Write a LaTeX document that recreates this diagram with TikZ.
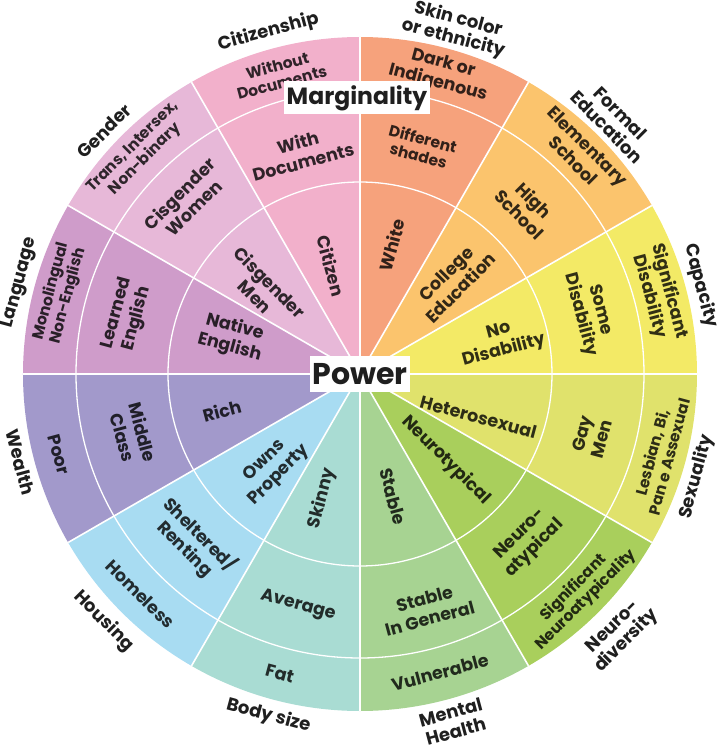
\documentclass[tikz,border=0pt]{standalone}
\usepackage{fontspec}
\setmainfont{Poppins}
\definecolor{cCit}{HTML}{F2B0CB}
\definecolor{cSkin}{HTML}{F6A27C}
\definecolor{cEdu}{HTML}{FBC46D}
\definecolor{cCap}{HTML}{F3EA66}
\definecolor{cSex}{HTML}{E0E26C}
\definecolor{cNeu}{HTML}{A9CF5C}
\definecolor{cMen}{HTML}{A7D392}
\definecolor{cBod}{HTML}{A9DCD3}
\definecolor{cHou}{HTML}{A8DCF2}
\definecolor{cWea}{HTML}{A299CB}
\definecolor{cLan}{HTML}{CF9CCA}
\definecolor{cGen}{HTML}{E7B8D8}
\tikzset{
  segtxt/.style={font=\bfseries\fontsize{17.5}{20.5}\selectfont, text=#1!20!black, align=center, inner sep=0pt},
  smalltxt/.style={font=\bfseries\fontsize{15.5}{17.5}\selectfont, text=#1!20!black, align=center, inner sep=0pt},
  lbl/.style={font=\bfseries\fontsize{18}{19.5}\selectfont, text=black!88, align=center, inner sep=0pt},
  ringline/.style={white, line width=1.3pt},
  spoke/.style={white, line width=1.6pt}
}
\newcommand\wedgefill[3]{\fill[#3] (0,0) -- (#1:337pt) arc[start angle=#1, end angle=#2, radius=337pt] -- cycle;}
\begin{document}
\begin{tikzpicture}[x=1pt,y=1pt]
\useasboundingbox (-360,-376) rectangle (359,374);
% wedges
\wedgefill{60}{90}{cSkin}
\wedgefill{30}{60}{cEdu}
\wedgefill{0}{30}{cCap}
\wedgefill{-30}{0}{cSex}
\wedgefill{-60}{-30}{cNeu}
\wedgefill{-90}{-60}{cMen}
\wedgefill{-120}{-90}{cBod}
\wedgefill{-150}{-120}{cHou}
\wedgefill{-180}{-150}{cWea}
\wedgefill{150}{180}{cLan}
\wedgefill{120}{150}{cGen}
\wedgefill{90}{120}{cCit}
% rings and spokes
\draw[ringline] (0,0) circle[radius=192pt];
\draw[ringline] (0,0) circle[radius=284pt];
\foreach \a in {0,30,...,330} { \draw[spoke] (0,0) -- (\a:337pt); }
% Citizenship
\node[segtxt=cCit, rotate=-75] (citA) at (105:112pt) {Citizen};
\node[segtxt=cCit, rotate=15] (citB) at (105:230pt) {With\\Documents};
\node[smalltxt=cCit, rotate=15] (citC) at (105:311pt) {Without\\Documents};
\node[lbl, rotate=15] (citL) at (105:354pt) {Citizenship};
% Skin
\node[segtxt=cSkin, rotate=75] (skinA) at (76:133pt) {White};
\node[smalltxt=cSkin, rotate=-15] (skinB) at (75:235pt) {Different\\shades};
\node[segtxt=cSkin, rotate=-15] (skinC) at (75:311pt) {Dark or\\Indigenous};
\node[lbl, rotate=-15] (skinL) at (74.5:358pt) {Skin color\\or ethnicity};
% Education
\node[segtxt=cEdu, rotate=45] (eduA) at (45:132pt) {College\\Education};
\node[segtxt=cEdu, rotate=-45] (eduB) at (45:236pt) {High\\School};
\node[segtxt=cEdu, rotate=-45] (eduC) at (45:312pt) {Elementary\\School};
\node[lbl, rotate=-45] (eduL) at (45:359pt) {Formal\\Education};
% Capacity
\node[segtxt=cCap, rotate=15] (capA) at (13:145pt) {No\\Disability};
\node[segtxt=cCap, rotate=-75] (capB) at (15:238pt) {Some\\Disability};
\node[segtxt=cCap, rotate=-75] (capC) at (15:310pt) {Significant\\Disability};
\node[lbl, rotate=-75] (capL) at (14.5:352pt) {Capacity};
% Sexuality
\node[segtxt=cSex, rotate=-15] (sexA) at (-20:126pt) {Heterosexual};
\node[segtxt=cSex, rotate=75] (sexB) at (-15:240pt) {Gay\\Men};
\node[smalltxt=cSex, rotate=75] (sexC) at (-15:311pt) {Lesbian, Bi,\\Pan e Assexual};
\node[lbl, rotate=75] (sexL) at (-17:352pt) {Sexuality};
% Neurodiversity
\node[segtxt=cNeu, rotate=-45] (neuA) at (-45:122pt) {Neurotypical};
\node[segtxt=cNeu, rotate=45] (neuB) at (-45:237pt) {Neuro-\\atypical};
\node[smalltxt=cNeu, rotate=45] (neuC) at (-45:311pt) {Significant\\Neuroatypicality};
\node[lbl, rotate=45] (neuL) at (-45:368pt) {Neuro-\\diversity};
% Mental health
\node[segtxt=cMen, rotate=-75] (menA) at (-75:127pt) {Stable};
\node[segtxt=cMen, rotate=15] (menB) at (-74:244pt) {Stable\\In General};
\node[segtxt=cMen, rotate=15] (menC) at (-75:309pt) {Vulnerable};
\node[lbl, rotate=15] (menL) at (-75:360pt) {Mental\\Health};
% Body size
\node[segtxt=cBod, rotate=75] (bodA) at (-107:130pt) {Skinny};
\node[segtxt=cBod, rotate=-15] (bodB) at (-105:240pt) {Average};
\node[segtxt=cBod, rotate=-15] (bodC) at (-105:310pt) {Fat};
\node[lbl, rotate=-15] (bodL) at (-105:354pt) {Body size};
% Housing
\node[segtxt=cHou, rotate=45] (houA) at (-133:129pt) {Owns\\Property};
\node[segtxt=cHou, rotate=-45] (houB) at (-135:237pt) {Sheltered/\\Renting};
\node[segtxt=cHou, rotate=-45] (houC) at (-135:311pt) {Homeless};
\node[lbl, rotate=-45] (houL) at (-136:356pt) {Housing};
% Wealth
\node[segtxt=cWea, rotate=15] (weaA) at (-165:143pt) {Rich};
\node[segtxt=cWea, rotate=-75] (weaB) at (-165:235pt) {Middle\\Class};
\node[segtxt=cWea, rotate=-75] (weaC) at (-165:312pt) {Poor};
\node[lbl, rotate=-75] (weaL) at (-165.5:351pt) {Wealth};
% Language
\node[segtxt=cLan, rotate=-15] (lanA) at (164:133pt) {Native\\English};
\node[segtxt=cLan, rotate=75] (lanB) at (166:240pt) {Learned\\English};
\node[smalltxt=cLan, rotate=75] (lanC) at (165:311pt) {Monolingual\\Non-English};
\node[lbl, rotate=75] (lanL) at (165:352pt) {Language};
% Gender
\node[segtxt=cGen, rotate=-45] (genA) at (139:129pt) {Cisgender\\Men};
\node[segtxt=cGen, rotate=45] (genB) at (135:245pt) {Cisgender\\Women};
\node[smalltxt=cGen, rotate=45] (genC) at (135:312pt) {Trans, Intersex,\\Non-binary};
\node[lbl, rotate=45] (genL) at (136.5:353pt) {Gender};
% centre and top labels
\node[fill=white, minimum width=100pt, minimum height=36pt, inner sep=0pt,
      font=\bfseries\fontsize{30}{30}\selectfont, text=black!88] (power) at (0,0) {Power};
\node[fill=white, minimum width=146pt, minimum height=33pt, inner sep=0pt,
      font=\bfseries\fontsize{23.5}{23.5}\selectfont, text=black!88] (marg) at (-3,276) {Marginality};
\end{tikzpicture}
\end{document}
